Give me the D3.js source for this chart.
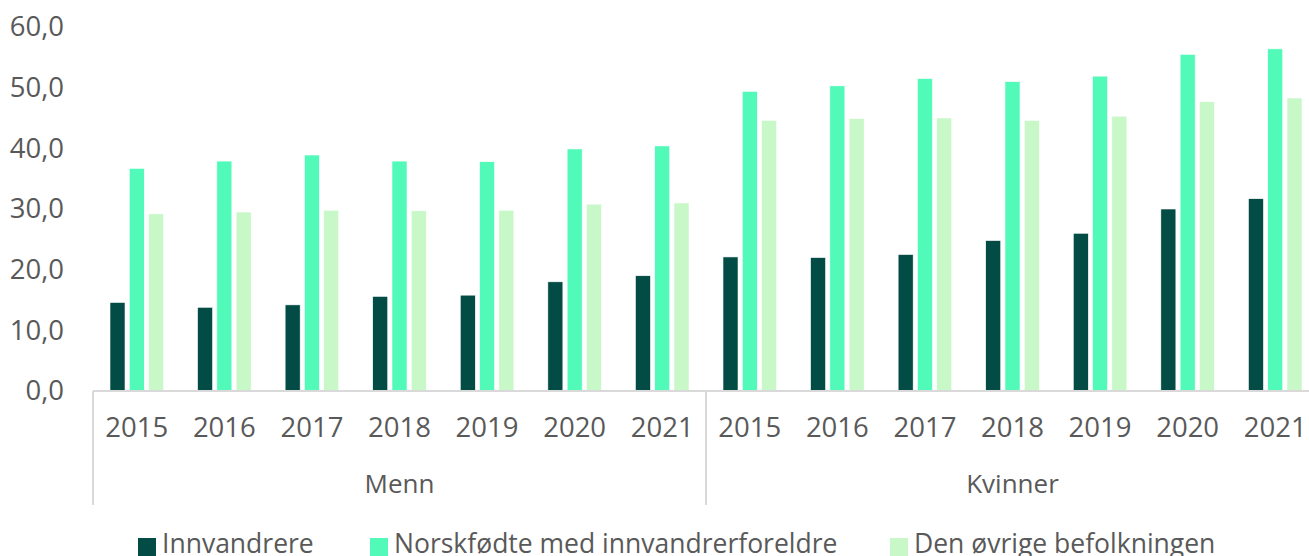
<!DOCTYPE html>
<html><head><meta charset="utf-8">
<script src="https://cdn.jsdelivr.net/npm/d3@7"></script>
<style>
html,body{margin:0;padding:0;background:#fff;}
svg text{font-family:"Open Sans",sans-serif;fill:#595959;}
</style></head>
<body><svg id="c" width="1309" height="556"></svg>
<script>
const groups = ["Menn", "Kvinner"];
const years = ["2015","2016","2017","2018","2019","2020","2021"];
const series = ["Innvandrere", "Norskfødte med innvandrerforeldre", "Den øvrige befolkningen"];
const innvandrere = [14.6,13.8,14.2,15.6,15.8,18.0,19.0, 22.1,22.0,22.5,24.8,26.0,30.0,31.7];
const norskfodte  = [36.7,37.9,38.9,37.9,37.8,39.9,40.4, 49.4,50.3,51.5,51.0,51.9,55.5,56.4];
const ovrige      = [29.2,29.5,29.8,29.7,29.8,30.8,31.0, 44.6,44.9,45.0,44.6,45.3,47.7,48.3];
const yTicks = [0,10,20,30,40,50,60];
const colors = ["#034C45", "#52FAB9", "#C8F7C8"];

(function(){
const values = [innvandrere, norskfodte, ovrige];
const cats = [];
groups.forEach(g => years.forEach(yr => cats.push(g + "|" + yr)));

const svg = d3.select("#c");
const mLeft = 93, mRight = 1319, mTop = 27, mBottom = 391;

const x = d3.scaleBand().domain(cats).range([mLeft, mRight]);
const xg = d3.scaleBand().domain(groups).range([mLeft, mRight]);
const inner = d3.scaleBand().domain(series).range([-26.8, 26.8]).paddingInner(0.22);
const y = d3.scaleLinear().domain([0, 60]).range([mBottom, mTop]);

series.forEach((s, si) => {
  svg.append("g").selectAll("rect").data(cats).join("rect")
    .attr("x", c => x(c) + x.bandwidth()/2 + inner(s))
    .attr("width", inner.bandwidth())
    .attr("y", (c, i) => y(values[si][i]))
    .attr("height", (c, i) => y(0) - y(values[si][i]))
    .attr("fill", colors[si])
    .attr("stroke", "#ffffff").attr("stroke-width", 0.6);
});

const ya = svg.append("g").attr("transform", `translate(${mLeft},0)`)
  .call(d3.axisLeft(y).tickValues(yTicks).tickSize(0).tickPadding(29)
    .tickFormat(d => d3.format(".1f")(d).replace(".", ",")));
ya.select(".domain").remove();
ya.selectAll("text").attr("font-size", 27.5).attr("fill", "#595959")
  .style("font-family", "'Open Sans', sans-serif");

svg.append("line").attr("x1", mLeft).attr("x2", mRight)
  .attr("y1", mBottom).attr("y2", mBottom)
  .attr("stroke", "#d9d9d9").attr("stroke-width", 2);

const seps = [mLeft].concat(groups.map(g => xg(g) + xg.bandwidth()));
svg.append("g").selectAll("line").data(seps).join("line")
  .attr("x1", d => d).attr("x2", d => d)
  .attr("y1", mBottom).attr("y2", 505)
  .attr("stroke", "#d9d9d9").attr("stroke-width", 2);

svg.append("g").selectAll("text").data(cats).join("text")
  .attr("x", c => x(c) + x.bandwidth()/2)
  .attr("y", 437)
  .attr("text-anchor", "middle")
  .attr("font-size", 27.5)
  .text(c => c.split("|")[1]);

svg.append("g").selectAll("text").data(groups).join("text")
  .attr("x", g => xg(g) + xg.bandwidth()/2)
  .attr("y", 493)
  .attr("text-anchor", "middle")
  .attr("font-size", 26)
  .text(g => g);

const legX = [138, 370, 890];
const leg = svg.append("g").selectAll("g").data(series).join("g")
  .attr("transform", (d, i) => `translate(${legX[i]},538)`);
leg.append("rect").attr("width", 18).attr("height", 18).attr("fill", (d, i) => colors[i]);
leg.append("text").attr("x", 24).attr("y", 15).attr("font-size", 26.5).text(d => d);
})();
</script></body></html>
